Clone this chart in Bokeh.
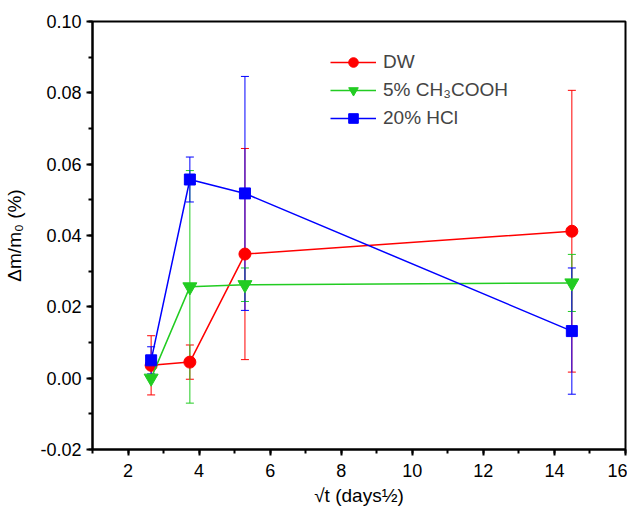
import numpy as np
from bokeh.plotting import figure
from bokeh.models import Whisker, ColumnDataSource, NumeralTickFormatter, FixedTicker, TeeHead, Range1d
from bokeh.embed import file_html
from bokeh.resources import INLINE

x_vals = [2.65, 3.74, 5.29, 14.49]
dw = [0.0036, 0.0045, 0.0348, 0.0412]
dw_err = [0.0083, 0.0048, 0.0296, 0.0395]
ac = [0.0000, 0.0256, 0.0262, 0.0267]
ac_err = [0.0, 0.0326, 0.0047, 0.0080]
hcl = [0.0050, 0.0557, 0.0518, 0.0132]
hcl_err = [0.0038, 0.0063, 0.0328, 0.0177]

series = [
    ("DW", dw, dw_err, "#FF0000", "circle", 12),
    ("5% CH\u2083COOH", ac, ac_err, "#22CC22", "inverted_triangle", 14),
    ("20% HCl", hcl, hcl_err, "#0000FF", "square", 11),
]

FONT = "Liberation Sans"

p = figure(width=627, height=508, output_backend="svg", toolbar_location=None,
           x_range=Range1d(1, 16), y_range=Range1d(-0.02, 0.10),
           min_border_left=92, min_border_right=2, min_border_top=21, min_border_bottom=59)

p.grid.visible = False
p.outline_line_color = "black"
p.outline_line_width = 2

for name, ys, errs, color, marker, size in series:
    src = ColumnDataSource(dict(x=x_vals, y=ys,
                                lo=[a - e for a, e in zip(ys, errs)],
                                hi=[a + e for a, e in zip(ys, errs)]))
    w = Whisker(source=src, base="x", lower="lo", upper="hi",
                line_color=color, line_width=1,
                lower_head=TeeHead(size=8, line_color=color, line_width=1),
                upper_head=TeeHead(size=8, line_color=color, line_width=1))
    p.add_layout(w)

for name, ys, errs, color, marker, size in series:
    src = ColumnDataSource(dict(x=x_vals, y=ys))
    p.line("x", "y", source=src, line_color=color, line_width=1.5, legend_label=name)
    p.scatter("x", "y", source=src, marker=marker, size=size, fill_color=color,
              line_color=color, legend_label=name)

for ax in (p.xaxis[0], p.yaxis[0]):
    ax.axis_line_width = 2
    ax.major_tick_line_width = 2
    ax.minor_tick_line_width = 2
    ax.major_tick_out = 6
    ax.major_tick_in = 0
    ax.minor_tick_out = 4
    ax.minor_tick_in = 0
    ax.major_label_text_font = FONT
    ax.major_label_text_font_size = "18px"
    ax.major_label_text_color = "black"
    ax.axis_label_text_font = FONT
    ax.axis_label_text_font_size = "19px"
    ax.axis_label_text_font_style = "normal"
    ax.axis_label_text_color = "black"

p.xaxis[0].ticker = FixedTicker(ticks=[2, 4, 6, 8, 10, 12, 14, 16],
                                minor_ticks=list(range(1, 17)))
p.yaxis[0].ticker = FixedTicker(ticks=[-0.02, 0.0, 0.02, 0.04, 0.06, 0.08, 0.10],
                                minor_ticks=[-0.02 + 0.01 * i for i in range(13)])
p.yaxis[0].formatter = NumeralTickFormatter(format="0.00")
p.xaxis[0].axis_label = "\u221At (days\u00bd)"
p.yaxis[0].axis_label = "\u0394m/m\u2080 (%)"
p.xaxis[0].major_label_standoff = 8
p.yaxis[0].major_label_standoff = 5
p.yaxis[0].axis_label_standoff = 12

lg = p.legend[0]
lg.location = (238, 319)
lg.border_line_color = None
lg.background_fill_alpha = 0
lg.label_text_font = FONT
lg.label_text_font_size = "19px"
lg.glyph_width = 46
lg.glyph_height = 24
lg.spacing = 4
lg.label_standoff = 7
lg.padding = 4

open("out.html", "w").write(file_html(p, INLINE))
